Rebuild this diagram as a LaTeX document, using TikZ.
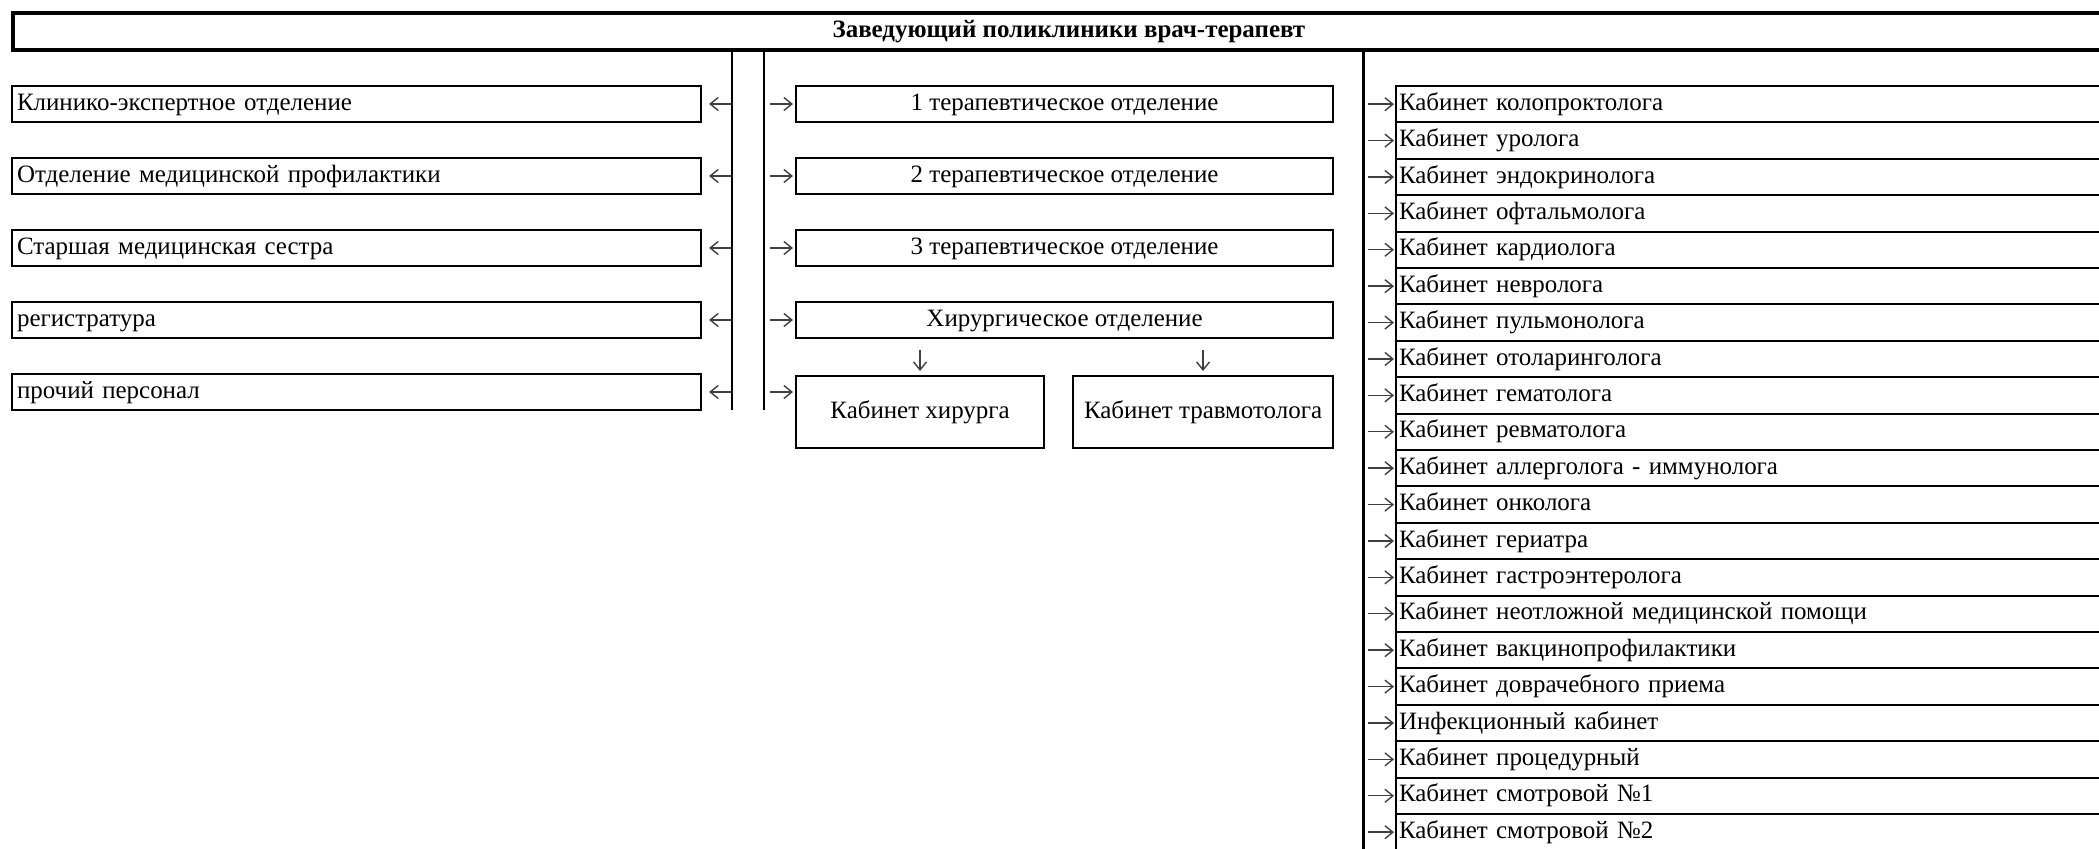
\documentclass[tikz,border=0pt]{standalone}
\usepackage{fontspec}
\setmainfont{Liberation Serif}
\usetikzlibrary{positioning, calc, arrows.meta}

\begin{document}
\begin{tikzpicture}[x=0.1mm, y=-0.1mm,
    every node/.style={font=\fontsize{7.1}{8}\selectfont},
    box/.style={draw, line width=0.6pt, inner xsep=0.5mm, inner ysep=0pt, minimum height=3.6mm, text height=5pt, text depth=1.5pt},
    lbox/.style={box, anchor=west, text width=67.9mm, align=left},
    mbox/.style={box, anchor=west, minimum width=53.7mm},
    cab/.style={box, anchor=west, minimum height=3.64mm, inner xsep=0.3mm, text width=74mm, align=left},
    arr/.style={-{Straight Barb[length=0.8mm,width=1.3mm]}, black!75, line width=0.4pt}]
\path[use as bounding box, clip] (0,0) rectangle (2099,849);

% head of the polyclinic
\node[draw, line width=1.1pt, inner ysep=0pt, minimum width=211.2mm, minimum height=3.7mm, anchor=north west, font=\bfseries\fontsize{7.1}{8}\selectfont] (head) at (11,11) {Заведующий поликлиники врач-терапевт};

% left column
\node[lbox] (kl) at (11,104) {Клинико-экспертное отделение};
\node[lbox] (omp) at (11,176) {Отделение медицинской профилактики};
\node[lbox] (sms) at (11,248) {Старшая медицинская сестра};
\node[lbox] (reg) at (11,320) {регистратура};
\node[lbox] (proch) at (11,392) {прочий персонал};

% middle column
\node[mbox] (t1) at (795,104) {1 терапевтическое отделение};
\node[mbox] (t2) at (795,176) {2 терапевтическое отделение};
\node[mbox] (t3) at (795,248) {3 терапевтическое отделение};
\node[mbox] (hir) at (795,320) {Хирургическое отделение};
\node[box, anchor=north west, minimum width=24.8mm, minimum height=7.2mm] (khir) at (795,375) {Кабинет хирурга};
\node[box, anchor=north west, minimum width=26mm, minimum height=7.2mm] (ktr) at (1072,375) {Кабинет травмотолога};

% vertical lines
\coordinate (lv) at (732,410);
\coordinate (mv) at (764,410);
\coordinate (rv) at (1363.5,860);
\draw[line width=0.6pt] (head.south -| lv) -- (lv);
\draw[line width=0.6pt] (head.south -| mv) -- (mv);
\draw[line width=0.6pt] (head.south -| rv) -- (rv);

\foreach \n in {kl,omp,sms,reg,proch}
  \draw[arr, shorten <=0.1mm, shorten >=0.7mm] (lv |- \n.east) -- (\n.east);
\foreach \n in {t1,t2,t3,hir}
  \draw[arr, shorten <=0.6mm, shorten >=0.2mm] (mv |- \n.west) -- (\n.west);
\draw[arr, shorten <=0.6mm, shorten >=0.2mm] (mv |- proch.east) -- (khir.west |- proch.east);
\draw[arr, shorten <=1.1mm, shorten >=0.4mm] (hir.south -| khir.north) -- (khir.north);
\draw[arr, shorten <=1.1mm, shorten >=0.4mm] (hir.south -| ktr.north) -- (ktr.north);

% right column
\foreach \t [count=\i from 0] in {Кабинет колопроктолога, Кабинет уролога, Кабинет эндокринолога,
    Кабинет офтальмолога, Кабинет кардиолога, Кабинет невролога, Кабинет пульмонолога,
    Кабинет отоларинголога, Кабинет гематолога, Кабинет ревматолога,
    Кабинет аллерголога - иммунолога, Кабинет онколога, Кабинет гериатра,
    Кабинет гастроэнтеролога, Кабинет неотложной медицинской помощи,
    Кабинет вакцинопрофилактики, Кабинет доврачебного приема, Инфекционный кабинет,
    Кабинет процедурный, Кабинет смотровой №1, Кабинет смотровой №2} {
  \node[cab] (c\i) at (1395,{104.2+36.4*\i}) {\t};
  \draw[arr, shorten <=0.45mm, shorten >=0.1mm] (rv |- c\i.west) -- (c\i.west);
}
\end{tikzpicture}
\end{document}
